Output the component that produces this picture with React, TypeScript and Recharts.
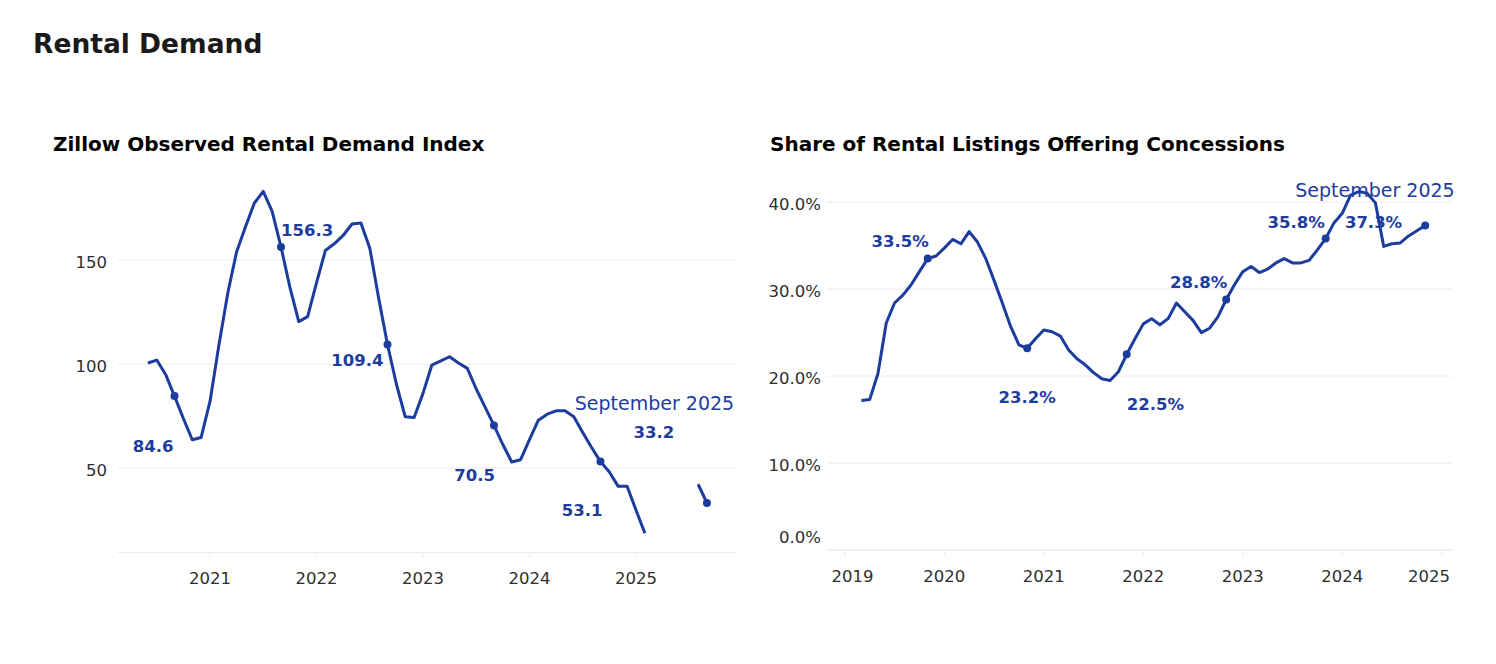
import { CartesianGrid, Line, LineChart, XAxis, YAxis } from 'recharts';

const BLUE = '#1c3c9e';
const GRID = '#ececec';
const TICK_TEXT = '#2e2e2e';
const FONT = '"DejaVu Sans", Verdana, sans-serif';

// Zillow Observed Rental Demand Index, monthly from June 2020.
// null = months missing from the published series (Mar-Jul 2025).
const DEMAND_START_YEAR = 2020;
const DEMAND_START_MONTH = 5; // 0 = January
const DEMAND_VALUES: (number | null)[] = [
  // 2020 Jun-Dec
  100.5, 101.9, 95, 84.6, 73.8, 63.6, 64.7,
  // 2021
  82, 109, 134, 154, 166, 177.4, 183, 173.4, 156.3, 137, 120.4, 122.8,
  // 2022
  139, 154.6, 157.8, 161.8, 167.3, 167.8, 155.8, 131.8, 109.4, 90.4, 74.6, 74.3,
  // 2023
  85.9, 99.5, 101.5, 103.5, 100.5, 97.9, 88, 79.3, 70.5, 61.3, 52.9, 54,
  // 2024
  63.7, 73, 75.9, 77.5, 77.5, 74.6, 67.1, 59.9, 53.1, 48.1, 41.2, 41.2,
  // 2025 Jan-Sep
  29.8, 18.7, null, null, null, null, null, 42.2, 33.2,
];
const DEMAND_LABELLED = [3, 15, 27, 39, 51, 63]; // every September
const DEMAND_X_TICKS = [2021, 2022, 2023, 2024, 2025];
const DEMAND_Y_TICKS = [50, 100, 150];

// Share of rental listings offering concessions (%), monthly.
const CONCESSION_START_YEAR = 2019;
const CONCESSION_START_MONTH = 2;
const CONCESSION_VALUES = [
  17.2, 17.3, 20.3, 26.1, 28.4, 29.3, 30.5, 32.0, 33.5, 33.8, 34.7, 35.7,
  35.2, 36.6, 35.4, 33.5, 31.0, 28.4, 25.7, 23.6, 23.2, 24.3, 25.3, 25.1,
  24.6, 23.0, 22.0, 21.3, 20.4, 19.7, 19.5, 20.5, 22.5, 24.3, 26.0, 26.6,
  25.9, 26.6, 28.4, 27.4, 26.4, 25.0, 25.5, 26.8, 28.8, 30.5, 32.0, 32.6,
  31.9, 32.3, 33.0, 33.5, 33.0, 33.0, 33.3, 34.5, 35.8, 37.6, 38.7, 40.8,
  41.2, 41.0, 39.9, 34.9, 35.2, 35.3, 36.1, 36.7, 37.3,
];
const CONCESSION_LABELLED = [8, 20, 32, 44, 56, 68];
const CONCESSION_X_TICKS = [2019, 2020, 2021, 2022, 2023, 2024, 2025];
const CONCESSION_MINOR_MONTHS = [2, 5, 8, 11];
const CONCESSION_Y_TICKS = [0, 10, 20, 30, 40];

const LATEST_LABEL = 'September 2025';

const toRows = (values: (number | null)[], year: number, month: number) =>
  values.map((v, i) => ({ t: year + (month + i) / 12, v }));

const demandRows = toRows(DEMAND_VALUES, DEMAND_START_YEAR, DEMAND_START_MONTH);
const concessionRows = toRows(CONCESSION_VALUES, CONCESSION_START_YEAR, CONCESSION_START_MONTH);

const concessionTicks = [
  ...CONCESSION_X_TICKS,
  2018 + 11 / 12,
  ...CONCESSION_X_TICKS.slice(0, -1).flatMap((y) => CONCESSION_MINOR_MONTHS.map((m) => y + m / 12)),
].sort((a, b) => a - b);

// where each value annotation sits relative to its marker
type Note = { anchor: 'start' | 'middle' | 'end'; dx: number; dy: number };
const DEMAND_NOTES: Note[] = [
  { anchor: 'end', dx: -1, dy: 49.5 },
  { anchor: 'start', dx: 0, dy: -17 },
  { anchor: 'end', dx: -4, dy: 16 },
  { anchor: 'end', dx: 1, dy: 49.5 },
  { anchor: 'end', dx: 2, dy: 48.5 },
  { anchor: 'middle', dx: -53, dy: -70.5 },
];
const DEMAND_DATE_NOTE: Note = { anchor: 'middle', dx: -52.5, dy: -99.5 };
const CONCESSION_NOTES: Note[] = [
  { anchor: 'end', dx: 1, dy: -18 },
  { anchor: 'middle', dx: 0, dy: 49 },
  { anchor: 'start', dx: 0, dy: 49.5 },
  { anchor: 'end', dx: 1, dy: -18 },
  { anchor: 'end', dx: -1, dy: -17 },
  { anchor: 'end', dx: -23, dy: -4 },
];
const CONCESSION_DATE_NOTE: Note = { anchor: 'end', dx: 29.5, dy: -35 };

function makeDot(labelled: number[], notes: Note[], dateNote: Note, fmt: (v: number) => string) {
  return (props: any) => {
    const { cx, cy, index, payload } = props;
    const k = labelled.indexOf(index);
    if (k < 0 || cx == null || cy == null || payload?.v == null) return <g key={`dot-${index}`} />;
    const n = notes[k];
    const last = k === labelled.length - 1;
    return (
      <g key={`dot-${index}`}>
        <circle cx={cx} cy={cy} r={4} fill={BLUE} />
        <text
          x={cx + n.dx}
          y={cy + n.dy + 6}
          textAnchor={n.anchor}
          fontSize={16.5}
          fontWeight={700}
          fill={BLUE}
          fontFamily={FONT}
        >
          {fmt(payload.v)}
        </text>
        {last && (
          <text
            x={cx + dateNote.dx}
            y={cy + dateNote.dy + 6.8}
            textAnchor={dateNote.anchor}
            fontSize={19}
            fill={BLUE}
            fontFamily={FONT}
          >
            {LATEST_LABEL}
          </text>
        )}
      </g>
    );
  };
}

const demandDot = makeDot(DEMAND_LABELLED, DEMAND_NOTES, DEMAND_DATE_NOTE, (v) => v.toFixed(1));
const concessionDot = makeDot(CONCESSION_LABELLED, CONCESSION_NOTES, CONCESSION_DATE_NOTE, (v) => `${v.toFixed(1)}%`);

function DemandXTick({ x, y, payload }: any) {
  return (
    <g>
      <line x1={x} x2={x} y1={y} y2={y + 5} stroke={GRID} />
      <text x={x} y={y + 31.5} textAnchor="middle" fontSize={16.5} fill={TICK_TEXT} fontFamily={FONT}>
        {payload.value}
      </text>
    </g>
  );
}

function DemandYTick({ x, y, payload }: any) {
  return (
    <text x={x - 11} y={y + 8} textAnchor="end" fontSize={16.5} fill={TICK_TEXT} fontFamily={FONT}>
      {payload.value}
    </text>
  );
}

// right chart plot edges, in its own svg coordinates
const R_PLOT_LEFT = 67;
const R_PLOT_RIGHT = 692;

function ConcessionXTick({ x, y, payload }: any) {
  const v = payload.value as number;
  if (!Number.isInteger(v)) {
    return <line x1={x} x2={x} y1={y} y2={y + 3} stroke={GRID} />;
  }
  const half = 21;
  const tx = Math.min(Math.max(x, R_PLOT_LEFT + 4.5 + half), R_PLOT_RIGHT - 2 - half);
  return (
    <g>
      <line x1={x} x2={x} y1={y} y2={y + 6} stroke={GRID} />
      <text x={tx} y={y + 32} textAnchor="middle" fontSize={16.5} fill={TICK_TEXT} fontFamily={FONT}>
        {v}
      </text>
    </g>
  );
}

function ConcessionYTick({ x, y, payload }: any) {
  const v = payload.value as number;
  return (
    <text
      x={x - 6}
      y={y + (v === 0 ? -13.5 : 2) + 6}
      textAnchor="end"
      fontSize={16.5}
      fill={TICK_TEXT}
      fontFamily={FONT}
    >
      {`${v.toFixed(1)}%`}
    </text>
  );
}

export default function App() {
  return (
    <div
      style={{
        position: 'absolute',
        left: 0,
        top: 0,
        width: 1496,
        height: 664,
        background: '#fff',
        fontFamily: FONT,
      }}
    >
      <svg width={1496} height={664} style={{ position: 'absolute', left: 0, top: 0 }}>
        <text x={33} y={53.3} fontSize={26.5} fontWeight={700} fill="#1a1a1a" fontFamily={FONT}>
          Rental Demand
        </text>
        <text x={53} y={151} fontSize={20} fontWeight={700} fill="#000" fontFamily={FONT}>
          Zillow Observed Rental Demand Index
        </text>
        <text x={770} y={151} fontSize={20} fontWeight={700} fill="#000" fontFamily={FONT}>
          Share of Rental Listings Offering Concessions
        </text>
      </svg>

      <div style={{ position: 'absolute', left: 0, top: 0 }}>
        <LineChart
          width={760}
          height={620}
          data={demandRows}
          margin={{ top: 176.8, right: 25, bottom: 37.5, left: 68 }}
        >
          <CartesianGrid vertical={false} stroke={GRID} horizontalValues={DEMAND_Y_TICKS} />
          <XAxis
            dataKey="t"
            type="number"
            domain={[2020.136, 2025.93]}
            ticks={DEMAND_X_TICKS}
            interval={0}
            height={30}
            tickSize={0}
            tickMargin={0}
            tickLine={false}
            axisLine={{ stroke: GRID }}
            tick={<DemandXTick />}
          />
          <YAxis
            type="number"
            domain={[9.4, 190]}
            ticks={DEMAND_Y_TICKS}
            interval={0}
            width={50}
            tickSize={0}
            tickMargin={0}
            tickLine={false}
            axisLine={false}
            tick={<DemandYTick />}
          />
          <Line
            dataKey="v"
            type="linear"
            stroke={BLUE}
            strokeWidth={3}
            strokeLinejoin="round"
            connectNulls={false}
            dot={demandDot}
            activeDot={false}
            isAnimationActive={false}
          />
        </LineChart>
      </div>

      <div style={{ position: 'absolute', left: 760, top: 0 }}>
        <LineChart
          width={736}
          height={620}
          data={concessionRows}
          margin={{ top: 184.6, right: 44, bottom: 39.8, left: 7 }}
        >
          <CartesianGrid vertical={false} stroke={GRID} horizontalValues={CONCESSION_Y_TICKS} />
          <XAxis
            dataKey="t"
            type="number"
            domain={[2018.821, 2025.103]}
            ticks={concessionTicks}
            interval={0}
            height={30}
            tickSize={0}
            tickMargin={0}
            tickLine={false}
            axisLine={{ stroke: GRID }}
            tick={<ConcessionXTick />}
          />
          <YAxis
            type="number"
            domain={[0, 42]}
            ticks={CONCESSION_Y_TICKS}
            interval={0}
            width={60}
            tickSize={0}
            tickMargin={0}
            tickLine={false}
            axisLine={false}
            tick={<ConcessionYTick />}
          />
          <Line
            dataKey="v"
            type="linear"
            stroke={BLUE}
            strokeWidth={3}
            strokeLinejoin="round"
            dot={concessionDot}
            activeDot={false}
            isAnimationActive={false}
          />
        </LineChart>
      </div>
    </div>
  );
}
